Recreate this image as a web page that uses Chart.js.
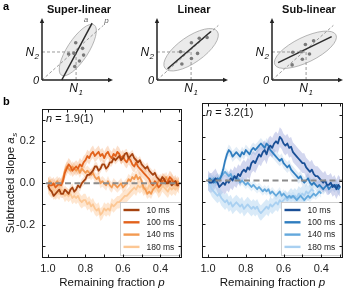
<!DOCTYPE html>
<html>
<head>
<meta charset="utf-8">
<script src="https://cdn.jsdelivr.net/npm/chart.js@4.4.1/dist/chart.umd.min.js"></script>
<style>
  html, body { margin: 0; padding: 0; background: #fff; }
  body { position: relative; width: 347px; height: 290px; overflow: hidden; font-family: "Liberation Sans", Arial, sans-serif; }
  canvas { position: absolute; }
  .panel { position: absolute; font-weight: bold; font-size: 11px; color: #000; }
</style>
</head>
<body>
<canvas id="superC" width="117" height="95" style="left:0;top:0"></canvas>
<canvas id="linC" width="117" height="95" style="left:115px;top:0"></canvas>
<canvas id="subC" width="117" height="95" style="left:230px;top:0"></canvas>
<canvas id="leftC" width="190" height="195" style="left:0;top:95px"></canvas>
<canvas id="rightC" width="157" height="195" style="left:190px;top:95px"></canvas>
<div class="panel" style="left:3px;top:0px">a</div>
<div class="panel" style="left:3px;top:95px">b</div>
<script>
const FONT = '"Liberation Sans", Arial, sans-serif';
Chart.defaults.font.family = FONT;
Chart.defaults.color = '#222';

// ---- panel a: schematic scatter clouds (units: N1 = N2 = 1) ----
const N1 = 1, N2 = 1;
const diagEnd = {x: 1.8, y: 1.95};

const superDots = [{x:0.99,y:1.33},{x:1.19,y:1.13},{x:0.94,y:0.95},{x:1.22,y:0.89},{x:0.78,y:0.93},{x:1.10,y:0.68},{x:0.96,y:0.48}];
const linDots   = [{x:1.01,y:1.33},{x:1.24,y:1.49},{x:1.47,y:1.52},{x:0.69,y:1.01},{x:1.19,y:0.95},{x:1.01,y:0.77},{x:0.73,y:0.57}];
const subDots   = [{x:0.98,y:1.27},{x:1.22,y:1.40},{x:0.61,y:0.99},{x:0.85,y:1.01},{x:1.10,y:0.93},{x:0.89,y:0.74},{x:0.59,y:0.54}];

const superFit = [{x:0.58,y:0},{x:1.47,y:2.03}];
const linFit   = [{x:0.31,y:0.40},{x:1.58,y:1.73}];
const subFit   = [{x:0.18,y:0.62},{x:1.75,y:1.55}];

// ---- panel b: subtracted slope vs remaining fraction p ----
const P = [1.00,0.99,0.98,0.97,0.96,0.95,0.94,0.93,0.92,0.91,
           0.90,0.89,0.88,0.87,0.86,0.85,0.84,0.83,0.82,0.81,
           0.80,0.79,0.78,0.77,0.76,0.75,0.74,0.73,0.72,0.71,
           0.70,0.69,0.68,0.67,0.66,0.65,0.64,0.63,0.62,0.61,
           0.60,0.59,0.58,0.57,0.56,0.55,0.54,0.53,0.52,0.51,
           0.50,0.49,0.48,0.47,0.46,0.45,0.44,0.43,0.42,0.41,
           0.40,0.39,0.38,0.37,0.36,0.35,0.34,0.33,0.32,0.31,
           0.30];
const durations = ['10 ms', '100 ms', '140 ms', '180 ms'];

// n = 1.9(1)
const left10 = [-0.01,-0.03,-0.04,-0.06,-0.05,-0.04,-0.03,-0.05,-0.05,-0.03,
  -0.04,-0.05,-0.03,-0.02,-0.04,-0.03,-0.01,-0.02,0.00,0.01,
  0.02,0.04,0.04,0.05,0.06,0.08,0.08,0.06,0.07,0.09,
  0.09,0.07,0.08,0.10,0.10,0.12,0.11,0.12,0.13,0.11,
  0.12,0.14,0.145,0.12,0.13,0.14,0.12,0.11,0.10,0.11,
  0.09,0.08,0.07,0.08,0.06,0.05,0.04,0.05,0.03,0.02,
  0.01,0.03,0.02,0.00,0.00,0.01,-0.01,0.00,0.01,-0.01,
  -0.01];
const left100 = [0.00,-0.01,-0.01,0.00,-0.02,-0.01,0.00,-0.01,0.01,0.05,
  0.07,0.09,0.08,0.06,0.07,0.08,0.07,0.09,0.08,0.10,
  0.11,0.13,0.12,0.14,0.15,0.13,0.14,0.15,0.13,0.14,
  0.12,0.14,0.15,0.13,0.12,0.14,0.13,0.15,0.14,0.12,
  0.13,0.11,0.10,0.12,0.11,0.09,0.08,0.10,0.08,0.07,
  0.06,0.05,0.04,0.03,0.02,0.00,-0.01,0.01,0.00,-0.02,
  -0.01,0.01,0.02,0.00,0.01,0.03,0.02,0.00,0.01,-0.01,
  0.00];
const left140 = [0.00,0.01,0.00,-0.01,0.00,0.01,-0.01,0.00,0.02,0.06,
  0.08,0.07,0.06,0.08,0.07,0.06,0.07,0.05,0.07,0.06,
  0.05,0.06,0.05,0.04,0.05,0.03,0.02,0.03,0.00,0.01,
  0.00,-0.01,0.01,-0.01,-0.02,0.00,-0.01,-0.02,-0.01,0.00,
  -0.02,-0.01,0.00,0.02,0.01,0.03,0.02,0.04,0.02,0.03,
  0.01,-0.02,-0.03,-0.05,-0.04,-0.05,-0.03,-0.02,-0.01,0.01,
  0.02,0.00,0.01,0.03,0.01,0.00,0.02,0.01,-0.01,0.01,
  0.00];
const left180 = [-0.02,-0.03,-0.04,-0.03,-0.05,-0.04,-0.05,-0.03,-0.04,-0.06,
  -0.05,-0.06,-0.05,-0.07,-0.06,-0.07,-0.06,-0.08,-0.09,-0.08,
  -0.08,-0.10,-0.09,-0.11,-0.10,-0.12,-0.13,-0.12,-0.15,-0.14,
  -0.12,-0.13,-0.12,-0.13,-0.10,-0.11,-0.10,-0.09,-0.09,-0.08,
  -0.07,-0.06,-0.06,-0.05,-0.04,-0.03,-0.02,-0.03,-0.01,-0.02,
  -0.01,-0.03,-0.02,-0.03,-0.01,-0.02,0.00,-0.01,-0.02,-0.04,
  -0.03,-0.01,-0.02,-0.03,-0.04,-0.02,-0.03,-0.02,-0.03,-0.01,
  -0.02];
const leftErr = [0.02, 0.03, 0.025, 0.03];

// n = 3.2(1)
const right10 = [0.00,-0.01,-0.01,0.00,0.01,-0.01,-0.03,-0.02,-0.01,-0.02,
  0.00,-0.01,0.01,0.00,0.02,0.01,0.03,0.02,0.04,0.05,
  0.04,0.06,0.05,0.08,0.09,0.08,0.10,0.12,0.11,0.13,
  0.14,0.12,0.15,0.16,0.15,0.17,0.18,0.17,0.20,0.19,
  0.17,0.16,0.17,0.15,0.155,0.13,0.12,0.11,0.10,0.09,
  0.08,0.08,0.06,0.05,0.04,0.05,0.03,0.02,0.02,0.01,
  0.00,-0.01,0.00,-0.02,-0.02,-0.01,-0.03,-0.02,-0.04,-0.02,
  -0.03];
const right100 = [0.00,0.01,0.00,-0.01,0.00,0.01,0.00,0.02,0.05,0.09,
  0.12,0.14,0.13,0.11,0.12,0.13,0.12,0.11,0.13,0.12,
  0.14,0.13,0.12,0.14,0.15,0.14,0.15,0.16,0.17,0.16,
  0.15,0.17,0.16,0.14,0.13,0.12,0.11,0.10,0.09,0.10,
  0.08,0.07,0.06,0.07,0.05,0.04,0.03,0.02,0.01,0.02,
  0.00,-0.01,0.00,0.01,-0.01,-0.02,-0.01,-0.02,-0.03,-0.02,
  -0.03,-0.04,-0.03,-0.02,-0.04,-0.03,-0.02,-0.03,-0.02,-0.04,
  -0.03];
const right140 = [0.00,-0.01,0.00,0.01,-0.01,0.00,0.01,0.02,0.03,0.04,
  0.03,0.02,0.03,0.01,0.02,0.00,0.01,-0.01,0.00,-0.01,
  -0.02,-0.01,-0.02,-0.03,-0.02,-0.03,-0.04,-0.03,-0.04,-0.05,
  -0.04,-0.05,-0.04,-0.06,-0.05,-0.06,-0.07,-0.06,-0.05,-0.07,
  -0.06,-0.07,-0.08,-0.07,-0.08,-0.07,-0.08,-0.09,-0.08,-0.07,
  -0.08,-0.09,-0.08,-0.07,-0.08,-0.07,-0.06,-0.07,-0.06,-0.05,
  -0.06,null,null,null,null,null,null,null,null,null,
  null];
const right180 = [-0.01,-0.02,-0.04,-0.05,-0.06,-0.07,-0.06,-0.08,-0.09,-0.10,
  -0.09,-0.11,-0.10,-0.12,-0.11,-0.10,-0.11,-0.12,-0.11,-0.13,
  -0.12,-0.11,-0.12,-0.13,-0.12,-0.13,-0.12,-0.14,-0.15,-0.14,
  -0.13,-0.12,-0.13,-0.11,-0.12,-0.11,-0.10,-0.11,-0.09,-0.10,
  -0.09,-0.08,-0.09,-0.08,-0.07,-0.08,-0.07,-0.08,-0.06,-0.07,
  -0.06,-0.07,-0.05,-0.06,-0.05,-0.04,-0.05,null,null,null,
  null,null,null,null,null,null,null,null,null,null,
  null];
const rightErr = [0.045, 0.025, 0.02, 0.035];

const orangeLines = ['#a5420f', '#e2621c', '#f39a52', '#fcc794'];
const orangeBands = ['rgba(235,130,60,0.22)', 'rgba(240,140,70,0.28)', 'rgba(245,160,90,0.25)', 'rgba(252,200,150,0.45)'];
const blueLines = ['#1a4f96', '#2f7dbf', '#63a8dc', '#a9d0f1'];
const blueBands = ['rgba(130,140,210,0.35)', 'rgba(60,130,195,0.15)', 'rgba(100,165,220,0.15)', 'rgba(170,208,240,0.45)'];

// ---------- helpers ----------
function subText(ctx, base, sub, x, y, size, align) {
  ctx.font = `italic ${size}px ${FONT}`;
  const w1 = ctx.measureText(base).width;
  const ss = Math.round(size * 0.68);
  ctx.font = `italic ${ss}px ${FONT}`;
  const w2 = ctx.measureText(sub).width;
  const tw = w1 + w2 + 0.5;
  const x0 = align === 'right' ? x - tw : align === 'center' ? x - tw / 2 : x;
  ctx.textAlign = 'left';
  ctx.textBaseline = 'alphabetic';
  ctx.font = `italic ${size}px ${FONT}`;
  ctx.fillText(base, x0, y);
  ctx.font = `italic ${ss}px ${FONT}`;
  ctx.fillText(sub, x0 + w1 + 0.5, y + size * 0.25);
}

function arrowHead(ctx, x, y, dir) {
  ctx.beginPath();
  if (dir === 'right') { ctx.moveTo(x, y); ctx.lineTo(x - 5, y - 2.2); ctx.lineTo(x - 5, y + 2.2); }
  else { ctx.moveTo(x, y); ctx.lineTo(x - 2.2, y + 5); ctx.lineTo(x + 2.2, y + 5); }
  ctx.closePath();
  ctx.fill();
}

const schemPlugin = {
  id: 'schem',
  beforeDatasetsDraw(chart, args, o) {
    const {ctx, scales: {x, y}} = chart;
    ctx.save();
    ctx.beginPath();
    ctx.ellipse(x.getPixelForValue(o.ell.cx), y.getPixelForValue(o.ell.cy), o.ell.rx, o.ell.ry,
                -o.ell.angle * Math.PI / 180, 0, 2 * Math.PI);
    ctx.fillStyle = '#ebebeb';
    ctx.fill();
    ctx.strokeStyle = '#a3a3a3';
    ctx.lineWidth = 0.8;
    ctx.stroke();
    ctx.restore();
  },
  afterDatasetsDraw(chart, args, o) {
    const {ctx, chartArea: a, scales: {x, y}} = chart;
    ctx.save();
    ctx.strokeStyle = '#222';
    ctx.fillStyle = '#222';
    ctx.lineWidth = 1.5;
    ctx.beginPath();
    ctx.moveTo(a.left, a.bottom); ctx.lineTo(a.right - 4, a.bottom);
    ctx.moveTo(a.left, a.bottom); ctx.lineTo(a.left, a.top + 4);
    ctx.stroke();
    arrowHead(ctx, a.right, a.bottom, 'right');
    arrowHead(ctx, a.left, a.top, 'up');

    ctx.fillStyle = '#111';
    ctx.font = `bold 11px ${FONT}`;
    ctx.textAlign = 'center';
    ctx.textBaseline = 'middle';
    ctx.fillText(o.title, a.left + 37, 10);

    ctx.font = `italic 11px ${FONT}`;
    ctx.textAlign = 'right';
    ctx.textBaseline = 'alphabetic';
    ctx.fillText('0', a.left - 3, a.bottom + 4);
    subText(ctx, 'N', '2', a.left - 3, y.getPixelForValue(N2) + 4, 12, 'right');
    subText(ctx, 'N', '1', x.getPixelForValue(N1), a.bottom + 12, 12, 'center');

    if (o.tags) {
      ctx.fillStyle = '#666';
      ctx.font = `italic 8px ${FONT}`;
      ctx.textAlign = 'right';
      ctx.fillText('a', x.getPixelForValue(o.fitEnd.x) - 4, y.getPixelForValue(o.fitEnd.y) - 1);
      ctx.textAlign = 'left';
      ctx.fillText('p', x.getPixelForValue(diagEnd.x) + 1, y.getPixelForValue(diagEnd.y) - 2);
    }
    ctx.restore();
  }
};

function schematic(id, title, dots, fit, ell, tags) {
  const guide = {showLine: true, borderColor: '#9a9a9a', borderWidth: 1, borderDash: [3, 2], pointRadius: 0, clip: false};
  new Chart(document.getElementById(id), {
    type: 'scatter',
    data: {
      datasets: [
        {...guide, data: [{x: 0, y: 0}, diagEnd], order: 5},
        {...guide, data: [{x: 0, y: N2}, {x: N1, y: N2}], order: 6},
        {...guide, data: [{x: N1, y: 0}, {x: N1, y: N2}], order: 7},
        {data: fit, showLine: true, borderColor: '#2b2b2b', borderWidth: 1.5, pointRadius: 0, clip: false, order: 2},
        {data: dots, pointRadius: 1.8, pointBackgroundColor: '#7a7a7a', pointBorderWidth: 0, clip: false, order: 1}
      ]
    },
    options: {
      responsive: false, animation: false, events: [],
      layout: {padding: {left: 42, right: 0, top: 18, bottom: 15}},
      scales: {
        x: {type: 'linear', display: false, min: 0, max: 2.083},
        y: {type: 'linear', display: false, min: 0, max: 2.214}
      },
      plugins: {
        legend: {display: false}, tooltip: {enabled: false},
        schem: {title, ell, tags, fitEnd: fit[1]}
      }
    },
    plugins: [schemPlugin]
  });
}

schematic('superC', 'Super-linear', superDots, superFit, {cx: 1.05, cy: 1.07, rx: 30, ry: 10.5, angle: 57}, true);
schematic('linC', 'Linear', linDots, linFit, {cx: 1.0, cy: 1.08, rx: 32, ry: 13, angle: 35}, false);
schematic('subC', 'Sub-linear', subDots, subFit, {cx: 0.98, cy: 1.08, rx: 34, ry: 12.5, angle: 26}, false);

// ---------- panel b ----------
const framePlugin = {
  id: 'frame',
  afterDatasetsDraw(chart, args, o) {
    const {ctx, chartArea: a, scales: {x, y}} = chart;
    const L = Math.round(a.left) + 0.5, R = Math.round(a.right) - 0.5;
    const T = Math.round(a.top) + 0.5, B = Math.round(a.bottom) - 0.5;
    ctx.save();

    // zero reference
    const y0 = y.getPixelForValue(0);
    ctx.strokeStyle = '#8c8c8c';
    ctx.lineWidth = 2;
    ctx.setLineDash([6, 3.5]);
    ctx.beginPath(); ctx.moveTo(a.left + 4, y0); ctx.lineTo(a.right, y0); ctx.stroke();
    ctx.setLineDash([]);

    // legend
    const lx = Math.round(a.right - 62) + 0.5, ly = Math.round(a.bottom - 56) + 0.5;
    ctx.fillStyle = '#fff';
    ctx.fillRect(lx, ly, 60, 53);
    ctx.strokeStyle = '#c4c4c4';
    ctx.lineWidth = 0.8;
    ctx.strokeRect(lx, ly, 60, 53);
    ctx.font = `8.5px ${FONT}`;
    ctx.textAlign = 'left';
    ctx.textBaseline = 'middle';
    o.labels.forEach((lab, i) => {
      const yy = ly + 7.5 + i * 12.3;
      ctx.strokeStyle = o.colors[i];
      ctx.lineWidth = 2.4;
      ctx.beginPath(); ctx.moveTo(lx + 3, yy); ctx.lineTo(lx + 19, yy); ctx.stroke();
      ctx.fillStyle = '#222';
      ctx.fillText(lab, lx + 26, yy + 0.5);
    });

    // frame and inward ticks
    ctx.strokeStyle = '#1a1a1a';
    ctx.lineWidth = 1;
    ctx.strokeRect(L, T, R - L, B - T);
    ctx.beginPath();
    x.ticks.forEach(t => {
      const px = Math.round(x.getPixelForValue(t.value)) + 0.5;
      ctx.moveTo(px, B); ctx.lineTo(px, B - 3);
      ctx.moveTo(px, T); ctx.lineTo(px, T + 3);
    });
    y.ticks.forEach(t => {
      const py = Math.round(y.getPixelForValue(t.value)) + 0.5;
      ctx.moveTo(L, py); ctx.lineTo(L + 3, py);
      ctx.moveTo(R, py); ctx.lineTo(R - 3, py);
    });
    ctx.stroke();

    // n label
    ctx.fillStyle = '#111';
    ctx.textBaseline = 'middle';
    ctx.textAlign = 'left';
    ctx.font = `italic 11px ${FONT}`;
    ctx.fillText('n', a.left + 4, a.top + 10);
    const wn = ctx.measureText('n').width;
    ctx.font = `11px ${FONT}`;
    ctx.fillText(' = ' + o.nText, a.left + 4 + wn, a.top + 10);

    // x title
    ctx.font = `11.5px ${FONT}`;
    const t1 = 'Remaining fraction ';
    const w1 = ctx.measureText(t1).width;
    ctx.font = `italic 11.5px ${FONT}`;
    const w2 = ctx.measureText('p').width;
    const cx = (a.left + a.right) / 2 - (w1 + w2) / 2;
    ctx.font = `11.5px ${FONT}`;
    ctx.fillText(t1, cx, a.bottom + 25);
    ctx.font = `italic 11.5px ${FONT}`;
    ctx.fillText('p', cx + w1, a.bottom + 25);

    // y title
    if (o.yTitle) {
      ctx.translate(10, (a.top + a.bottom) / 2);
      ctx.rotate(-Math.PI / 2);
      ctx.font = `11.5px ${FONT}`;
      const s1 = 'Subtracted slope ';
      const ws1 = ctx.measureText(s1).width;
      ctx.font = `italic 11.5px ${FONT}`;
      const ws2 = ctx.measureText('a').width;
      ctx.font = `italic 8px ${FONT}`;
      const ws3 = ctx.measureText('s').width;
      const sx = -(ws1 + ws2 + ws3) / 2;
      ctx.textBaseline = 'alphabetic';
      ctx.font = `11.5px ${FONT}`;
      ctx.fillText(s1, sx, 4);
      ctx.font = `italic 11.5px ${FONT}`;
      ctx.fillText('a', sx + ws1, 4);
      ctx.font = `italic 8px ${FONT}`;
      ctx.fillText('s', sx + ws1 + ws2 + 0.5, 6.5);
    }
    ctx.restore();
  }
};

function traceSets(series, errs, lines, bands) {
  const sets = [];
  series.forEach((vals, k) => {
    const pts = off => P.map((p, i) => ({x: p, y: vals[i] === null ? null : vals[i] + off}));
    sets.push({data: pts(errs[k]), borderColor: 'transparent', borderWidth: 0, backgroundColor: bands[k],
               pointRadius: 0, fill: '+1', order: 20 - k});
    sets.push({data: pts(-errs[k]), borderColor: 'transparent', borderWidth: 0, pointRadius: 0, fill: false, order: 20 - k});
    sets.push({data: pts(0), label: durations[k], borderColor: lines[k], borderWidth: 1.8,
               borderJoinStyle: 'round', pointRadius: 0, fill: false, order: k + 1});
  });
  return sets;
}

function slopeChart(id, series, errs, lines, bands, nText, showY) {
  new Chart(document.getElementById(id), {
    type: 'line',
    data: {datasets: traceSets(series, errs, lines, bands)},
    options: {
      responsive: false, animation: false, events: [],
      layout: {padding: {left: 0, right: showY ? 8 : 4, top: 8, bottom: 0}},
      scales: {
        x: {
          type: 'linear', reverse: true, min: 0.285, max: 1.032,
          grid: {display: false, drawTicks: false}, border: {display: false},
          ticks: {stepSize: 0.1, includeBounds: false, autoSkip: false, maxRotation: 0, padding: 4,
                  font: {size: 11}, color: '#222',
                  callback: v => (Math.round(v * 10) % 2 === 0 ? (Math.round(v * 10) / 10).toFixed(1) : '')},
          afterFit: s => { s.height = 32; }
        },
        y: {
          type: 'linear', min: -0.356, max: 0.356,
          grid: {display: false, drawTicks: false}, border: {display: false},
          ticks: {display: showY, stepSize: 0.1, includeBounds: false, autoSkip: false, padding: 7,
                  font: {size: 11}, color: '#222',
                  callback: v => (Math.round(v * 10) % 2 === 0 ? (Math.round(v * 10) / 10).toFixed(1) : '')},
          afterFit: s => { s.width = showY ? 42 : 12; }
        }
      },
      plugins: {
        legend: {display: false}, tooltip: {enabled: false},
        frame: {labels: durations, colors: lines, nText, yTitle: showY}
      }
    },
    plugins: [framePlugin]
  });
}

slopeChart('leftC', [left10, left100, left140, left180], leftErr, orangeLines, orangeBands, '1.9(1)', true);
slopeChart('rightC', [right10, right100, right140, right180], rightErr, blueLines, blueBands, '3.2(1)', false);
</script>
</body>
</html>
